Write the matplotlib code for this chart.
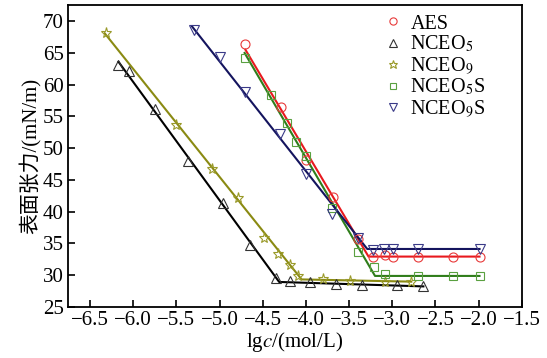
import numpy as np
import matplotlib
matplotlib.use("Agg")
import matplotlib.pyplot as plt

plt.rcParams['font.family'] = ['Liberation Serif', 'Noto Sans CJK SC']
plt.rcParams['mathtext.fontset'] = 'stix'

# measured points (lg c, surface tension)
aes_x = [-4.70, -4.29, -4.00, -3.69, -3.40, -3.22, -3.09, -2.99, -2.70, -2.30, -1.99]
aes_y = [66.4, 56.5, 48.2, 42.3, 35.6, 32.8, 33.1, 32.8, 32.8, 32.8, 32.8]
n5_x = [-6.18, -6.05, -5.75, -5.36, -4.96, -4.65, -4.35, -4.18, -3.95, -3.65, -3.35, -2.95, -2.64]
n5_y = [63.1, 62.1, 56.1, 48.0, 41.3, 34.8, 29.6, 29.1, 28.9, 28.5, 28.4, 28.4, 28.2]
n9_x = [-6.32, -5.50, -5.09, -4.79, -4.48, -4.32, -4.19, -4.09, -3.80, -3.49, -3.09, -2.78]
n9_y = [68.2, 53.7, 46.7, 42.2, 35.9, 33.3, 31.6, 29.8, 29.3, 29.1, 28.9, 28.9]
n5s_x = [-4.70, -4.41, -4.22, -4.11, -4.00, -3.70, -3.40, -3.21, -3.09, -2.70, -2.30, -1.99]
n5s_y = [64.2, 58.3, 53.9, 50.9, 48.8, 40.5, 33.7, 31.2, 30.1, 29.9, 29.85, 29.85]
n9s_x = [-5.30, -4.99, -4.70, -4.30, -4.00, -3.70, -3.40, -3.22, -3.10, -2.99, -2.70, -1.99]
n9s_y = [68.6, 64.4, 58.9, 52.2, 45.9, 39.6, 35.9, 33.9, 34.05, 34.05, 34.05, 34.05]

# fitted lines: start, break (cmc), end
aes_fx = [-4.70, -3.275, -1.99]
aes_fy = [65.5, 32.9, 32.9]
n5_fx = [-6.17, -4.31, -2.64]
n5_fy = [63.6, 28.9, 28.2]
n9_fx = [-6.33, -4.05, -2.78]
n9_fy = [68.1, 29.3, 28.95]
n5s_fx = [-4.71, -3.20, -1.99]
n5s_fy = [65.0, 29.85, 29.85]
n9s_fx = [-5.32, -3.29, -1.99]
n9s_fy = [69.2, 34.1, 34.1]

names = ['AES', r'NCEO$_5$', r'NCEO$_9$', r'NCEO$_5$S', r'NCEO$_9$S']
markers = ['o', '^', '*', 's', 'v']
line_colors = ['#e8191e', '#000000', '#8a8a12', '#2f7d1a', '#14145e']
mark_colors = ['#e83a3a', '#333333', '#9a9a2a', '#5aa040', '#3a3a88']
msizes = [6.5, 7, 8, 6, 7]

fig = plt.figure(figsize=(5.47, 3.58), dpi=100)
ax = fig.add_axes([0.1243, 0.1433, 0.8297, 0.8417])

data = [(aes_x, aes_y, aes_fx, aes_fy), (n5_x, n5_y, n5_fx, n5_fy),
        (n9_x, n9_y, n9_fx, n9_fy), (n5s_x, n5s_y, n5s_fx, n5s_fy),
        (n9s_x, n9s_y, n9s_fx, n9s_fy)]

handles = []
for i, (px, py, fx, fy) in enumerate(data):
    ax.plot(fx, fy, '-', color=line_colors[i], lw=1.5, zorder=2)
    h, = ax.plot(px, py, linestyle='none', marker=markers[i], ms=msizes[i],
                 mfc='none', mec=mark_colors[i], mew=0.8, zorder=3)
    handles.append(h)

ax.legend(handles, names, loc='upper left', bbox_to_anchor=(0.67, 1.0),
          frameon=False, fontsize=14.5, handletextpad=0.25, labelspacing=0.02,
          borderaxespad=0.05, handlelength=1.2, markerscale=0.8)

ax.set_xlim(-6.755, -1.5)
ax.set_ylim(25, 72.5)
ax.set_xticks(np.arange(-6.5, -1.4, 0.5))
ax.set_yticks(np.arange(25, 71, 5))
ax.tick_params(direction='in', length=5, width=1.2, labelsize=15, pad=3)
for s in ax.spines.values():
    s.set_linewidth(1.3)

ax.set_xlabel(r'lg$c$/(mol/L)', fontsize=15, labelpad=0)
ax.set_ylabel('表面张力/(mN/m)', fontsize=15, labelpad=1)

fig.savefig('out.png', dpi=100)
